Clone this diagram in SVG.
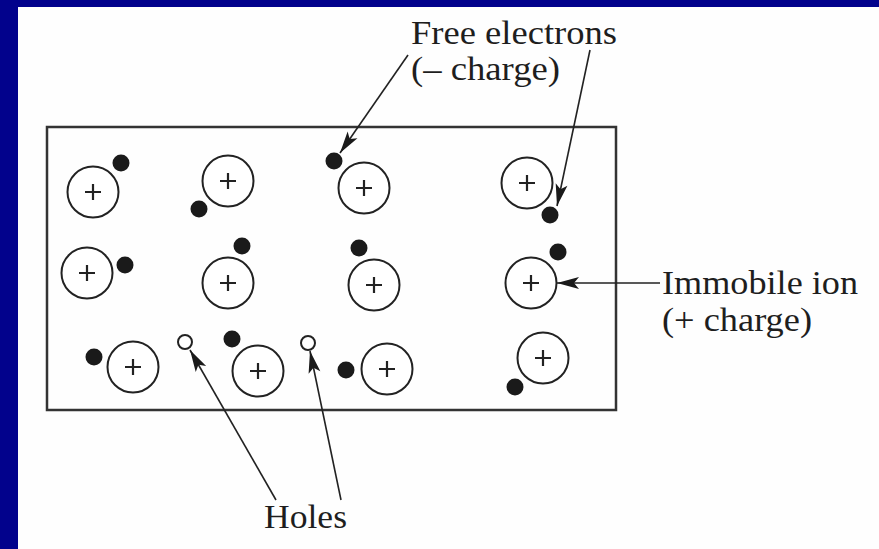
<svg xmlns="http://www.w3.org/2000/svg" width="879" height="549" viewBox="0 0 879 549">
<style>
.ion{fill:#fff;stroke:#222;stroke-width:2}
.plus{stroke:#222;stroke-width:2.2;fill:none}
.el{fill:#1a1a1a}
.hole{fill:#fff;stroke:#222;stroke-width:2}
.lbl{font-family:"Liberation Serif","Times New Roman",serif;font-size:33px;fill:#1e1e1e}
.conn{stroke:#222;stroke-width:1.6;fill:none;marker-end:url(#head)}
</style>
<defs>
<marker id="head" markerUnits="userSpaceOnUse" viewBox="-23 -7 25 14" markerWidth="25" markerHeight="14" refX="0" refY="0" orient="auto">
<path d="M0,0 L-22,-6 L-17,0 L-22,6 Z" fill="#1a1a1a"/>
</marker>
<g id="ionshape"><circle class="ion" r="25.5"/><path class="plus" d="M-8,0 H8 M0,-8 V8"/></g>
</defs>
<rect width="879" height="549" fill="#02028c"/>
<rect x="18" y="7" width="861" height="542" fill="#fefefe"/>
<g id="crystal"><rect x="47" y="127" width="569" height="283" fill="none" stroke="#333" stroke-width="2.5"/></g>
<g id="ions">
<use id="ion1" href="#ionshape" x="93" y="192"/>
<use id="ion2" href="#ionshape" x="228" y="181"/>
<use id="ion3" href="#ionshape" x="364" y="188"/>
<use id="ion4" href="#ionshape" x="527" y="183"/>
<use id="ion5" href="#ionshape" x="87" y="273"/>
<use id="ion6" href="#ionshape" x="228" y="283"/>
<use id="ion7" href="#ionshape" x="374" y="285"/>
<use id="ion8" href="#ionshape" x="531" y="283"/>
<use id="ion9" href="#ionshape" x="133" y="367"/>
<use id="ion10" href="#ionshape" x="258" y="371"/>
<use id="ion11" href="#ionshape" x="387" y="369"/>
<use id="ion12" href="#ionshape" x="543" y="358"/>
</g>
<g id="electrons">
<circle class="el" cx="121" cy="163" r="8.5"/>
<circle class="el" cx="199" cy="209" r="8.5"/>
<circle class="el" cx="334" cy="161" r="8.5"/>
<circle class="el" cx="550" cy="215" r="8.5"/>
<circle class="el" cx="125" cy="265" r="8.5"/>
<circle class="el" cx="242" cy="246" r="8.5"/>
<circle class="el" cx="359" cy="248" r="8.5"/>
<circle class="el" cx="558" cy="252" r="8.5"/>
<circle class="el" cx="94" cy="357" r="8.5"/>
<circle class="el" cx="232" cy="339" r="8.5"/>
<circle class="el" cx="346" cy="370" r="8.5"/>
<circle class="el" cx="515" cy="387" r="8.5"/>
</g>
<g id="holes">
<circle class="hole" cx="185" cy="342" r="7"/>
<circle class="hole" cx="308" cy="343" r="7"/>
</g>
<g id="connectors">
<line class="conn" x1="408" y1="55" x2="340" y2="153"/>
<line class="conn" x1="590" y1="50" x2="557" y2="206"/>
<line class="conn" x1="660" y1="283" x2="557" y2="283"/>
<line class="conn" x1="276" y1="500" x2="190" y2="350"/>
<line class="conn" x1="341" y1="500" x2="310" y2="351"/>
</g>
<g id="label-free">
<text class="lbl" x="411" y="44" textLength="206" lengthAdjust="spacingAndGlyphs">Free electrons</text>
<text class="lbl" x="411" y="80" textLength="149" lengthAdjust="spacingAndGlyphs">(– charge)</text>
</g>
<g id="label-ion">
<text class="lbl" x="662" y="294" textLength="196" lengthAdjust="spacingAndGlyphs">Immobile ion</text>
<text class="lbl" x="662" y="331" textLength="150" lengthAdjust="spacingAndGlyphs">(+ charge)</text>
</g>
<g id="label-holes">
<text class="lbl" x="264" y="528" textLength="83" lengthAdjust="spacingAndGlyphs">Holes</text>
</g>
</svg>
